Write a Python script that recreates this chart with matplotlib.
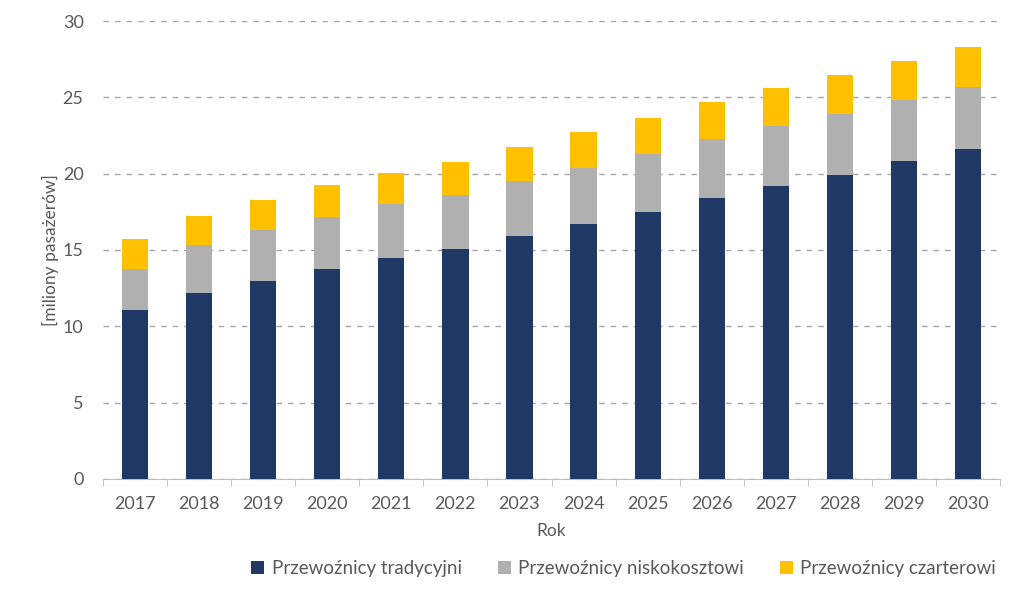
import matplotlib
matplotlib.use("Agg")
import matplotlib.pyplot as plt
import numpy as np

years = ["2017", "2018", "2019", "2020", "2021", "2022", "2023",
         "2024", "2025", "2026", "2027", "2028", "2029", "2030"]
tradycyjni = [11.1, 12.2, 13.0, 13.75, 14.5, 15.05, 15.9,
              16.7, 17.5, 18.4, 19.2, 19.9, 20.8, 21.6]
niskokosztowi = [2.65, 3.1, 3.3, 3.4, 3.5, 3.55, 3.6,
                 3.7, 3.8, 3.85, 3.9, 4.0, 4.0, 4.1]
czarterowi = [1.95, 1.9, 2.0, 2.1, 2.05, 2.15, 2.25,
              2.3, 2.35, 2.45, 2.5, 2.55, 2.55, 2.6]

c_trad = "#203864"
c_low = "#B0B0B0"
c_chart = "#FFC000"
txt = "#595959"

plt.rcParams['font.family'] = ['Lato', 'DejaVu Sans']

fig = plt.figure(figsize=(10.24, 6.0), dpi=100)
ax = fig.add_axes([0.1006, 0.2017, 0.8760, 0.7633])

x = np.arange(len(years))
w = 0.41
t = np.array(tradycyjni)
l = np.array(niskokosztowi)
c = np.array(czarterowi)
ax.bar(x, t, w, color=c_trad, label="Przewoźnicy tradycyjni", zorder=3)
ax.bar(x, l, w, bottom=t, color=c_low, label="Przewoźnicy niskokosztowi", zorder=3)
ax.bar(x, c, w, bottom=t + l, color=c_chart, label="Przewoźnicy czarterowi", zorder=3)

ax.set_xlim(-0.5, len(years) - 0.5)
ax.set_ylim(0, 30)
ax.set_yticks(range(0, 31, 5))
ax.yaxis.grid(True, linestyle=(0, (4, 4.3)), color="#A6A6A6", linewidth=1.0, zorder=0)
ax.set_axisbelow(True)

ax.set_xticks(x)
ax.set_xticklabels(years)
ax.set_xticks(np.arange(-0.5, len(years), 1), minor=True)
ax.tick_params(axis='x', which='major', length=0, pad=12, labelsize=13, labelcolor=txt)
ax.tick_params(axis='x', which='minor', length=5, color="#BFBFBF")
ax.tick_params(axis='y', length=0, pad=14, labelsize=13, labelcolor=txt)

for s in ['left', 'right', 'top']:
    ax.spines[s].set_visible(False)
ax.spines['bottom'].set_color("#BFBFBF")

ax.set_xlabel("Rok", fontsize=12.5, color=txt, labelpad=8)
ax.set_ylabel("[miliony pasażerów]", fontsize=12.5, color=txt, labelpad=3)

fig.legend(*ax.get_legend_handles_labels(), loc='center', bbox_to_anchor=(0.609, 0.053),
           ncol=3, frameon=False, fontsize=13.5, labelcolor=txt, handlelength=0.7,
           handleheight=0.7, handletextpad=0.4, columnspacing=1.9)

fig.savefig("out.png", dpi=100)
